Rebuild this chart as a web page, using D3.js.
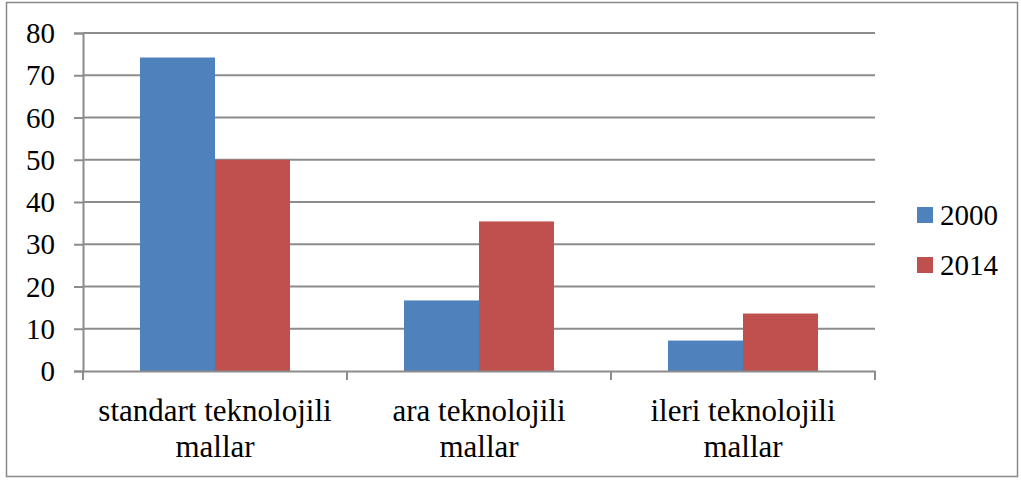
<!DOCTYPE html>
<html>
<head>
<script src="https://d3js.org/d3.v7.min.js"></script>
<style>
  svg text, svg tspan { font-family: "Times New Roman", "Liberation Serif", serif !important; }
</style>
</head>
<body style="margin:0">
<svg width="1021" height="480"></svg>
<script>
var categories = ["standart teknolojili|mallar", "ara teknolojili|mallar", "ileri teknolojili|mallar"];
var seriesNames = ["2000", "2014"];
var values2000 = [74.2, 16.7, 7.2];
var values2014 = [50, 35.4, 13.6];
var yTicks = [0, 10, 20, 30, 40, 50, 60, 70, 80];
var colors = ["#4F81BD", "#C0504D"];

var svg = d3.select("svg");
var plotLeft = 83, plotRight = 875, plotTop = 33, plotBottom = 371;

// outer frame
svg.append("rect")
  .attr("x", 6.5).attr("y", 2.5)
  .attr("width", 1011).attr("height", 474)
  .attr("fill", "none").attr("stroke", "#898989").attr("stroke-width", 1.5);

var x = d3.scaleBand().domain(categories).range([plotLeft, plotRight]);
var xInner = d3.scaleBand().domain(seriesNames)
  .range([0, x.bandwidth()]).paddingInner(0).paddingOuter(0.76);
var y = d3.scaleLinear().domain([0, 80]).range([plotBottom, plotTop]);

// gridlines
svg.append("g").selectAll("line")
  .data(yTicks.slice(1))
  .enter().append("line")
  .attr("x1", plotLeft).attr("x2", plotRight)
  .attr("y1", function(d) { return y(d); })
  .attr("y2", function(d) { return y(d); })
  .attr("stroke", "#8c8c8c").attr("stroke-width", 2);

// bars
var rows = categories.map(function(c, i) {
  return { cat: c, vals: [values2000[i], values2014[i]] };
});
var groups = svg.selectAll(".grp")
  .data(rows)
  .enter().append("g")
  .attr("class", "grp")
  .attr("transform", function(d) { return "translate(" + x(d.cat) + ",0)"; });
groups.selectAll("rect")
  .data(function(d) { return d.vals.map(function(v, j) { return { s: seriesNames[j], v: v, j: j }; }); })
  .enter().append("rect")
  .attr("x", function(d) { return xInner(d.s); })
  .attr("width", xInner.bandwidth())
  .attr("y", function(d) { return y(d.v); })
  .attr("height", function(d) { return y(0) - y(d.v); })
  .attr("fill", function(d) { return colors[d.j]; });

// y axis
var yAxis = d3.axisLeft(y).tickValues(yTicks).tickSize(9).tickPadding(19);
var gy = svg.append("g").attr("transform", "translate(" + plotLeft + ",0)").call(yAxis);
gy.attr("font-family", null).attr("font-size", 29);
gy.select(".domain").attr("stroke", "#8c8c8c").attr("stroke-width", 2);
gy.selectAll(".tick line").attr("stroke", "#8c8c8c").attr("stroke-width", 2);
gy.selectAll(".tick text").attr("fill", "#000").attr("dy", "0.33em");

// x axis
var xAxis = d3.axisBottom(x).tickSize(0).tickFormat("");
var gx = svg.append("g").attr("transform", "translate(0," + plotBottom + ")").call(xAxis);
gx.select(".domain").attr("stroke", "#8c8c8c").attr("stroke-width", 2);
gx.selectAll(".tick").remove();
var edges = categories.map(function(c) { return x(c); }).concat([plotRight]);
gx.selectAll(".edge")
  .data(edges)
  .enter().append("line")
  .attr("class", "edge")
  .attr("x1", function(d) { return d; }).attr("x2", function(d) { return d; })
  .attr("y1", 0).attr("y2", 9)
  .attr("stroke", "#8c8c8c").attr("stroke-width", 2);

// category labels
svg.selectAll(".cat")
  .data(categories)
  .enter().append("text")
  .attr("class", "cat")
  .attr("text-anchor", "middle")
  .attr("font-size", 31)
  .each(function(d) {
    var t = d3.select(this);
    d.split("|").forEach(function(line, k) {
      t.append("tspan")
        .attr("x", x(d) + x.bandwidth() / 2)
        .attr("y", 421 + k * 36)
        .text(line);
    });
  });

// legend
var legend = svg.selectAll(".leg")
  .data(seriesNames)
  .enter().append("g")
  .attr("class", "leg")
  .attr("transform", function(d, i) { return "translate(917," + (207 + i * 50) + ")"; });
legend.append("rect")
  .attr("width", 16).attr("height", 16)
  .attr("fill", function(d, i) { return colors[i]; });
legend.append("text")
  .attr("x", 23).attr("y", 18)
  .attr("font-size", 29)
  .text(function(d) { return d; });
</script>
</body>
</html>
